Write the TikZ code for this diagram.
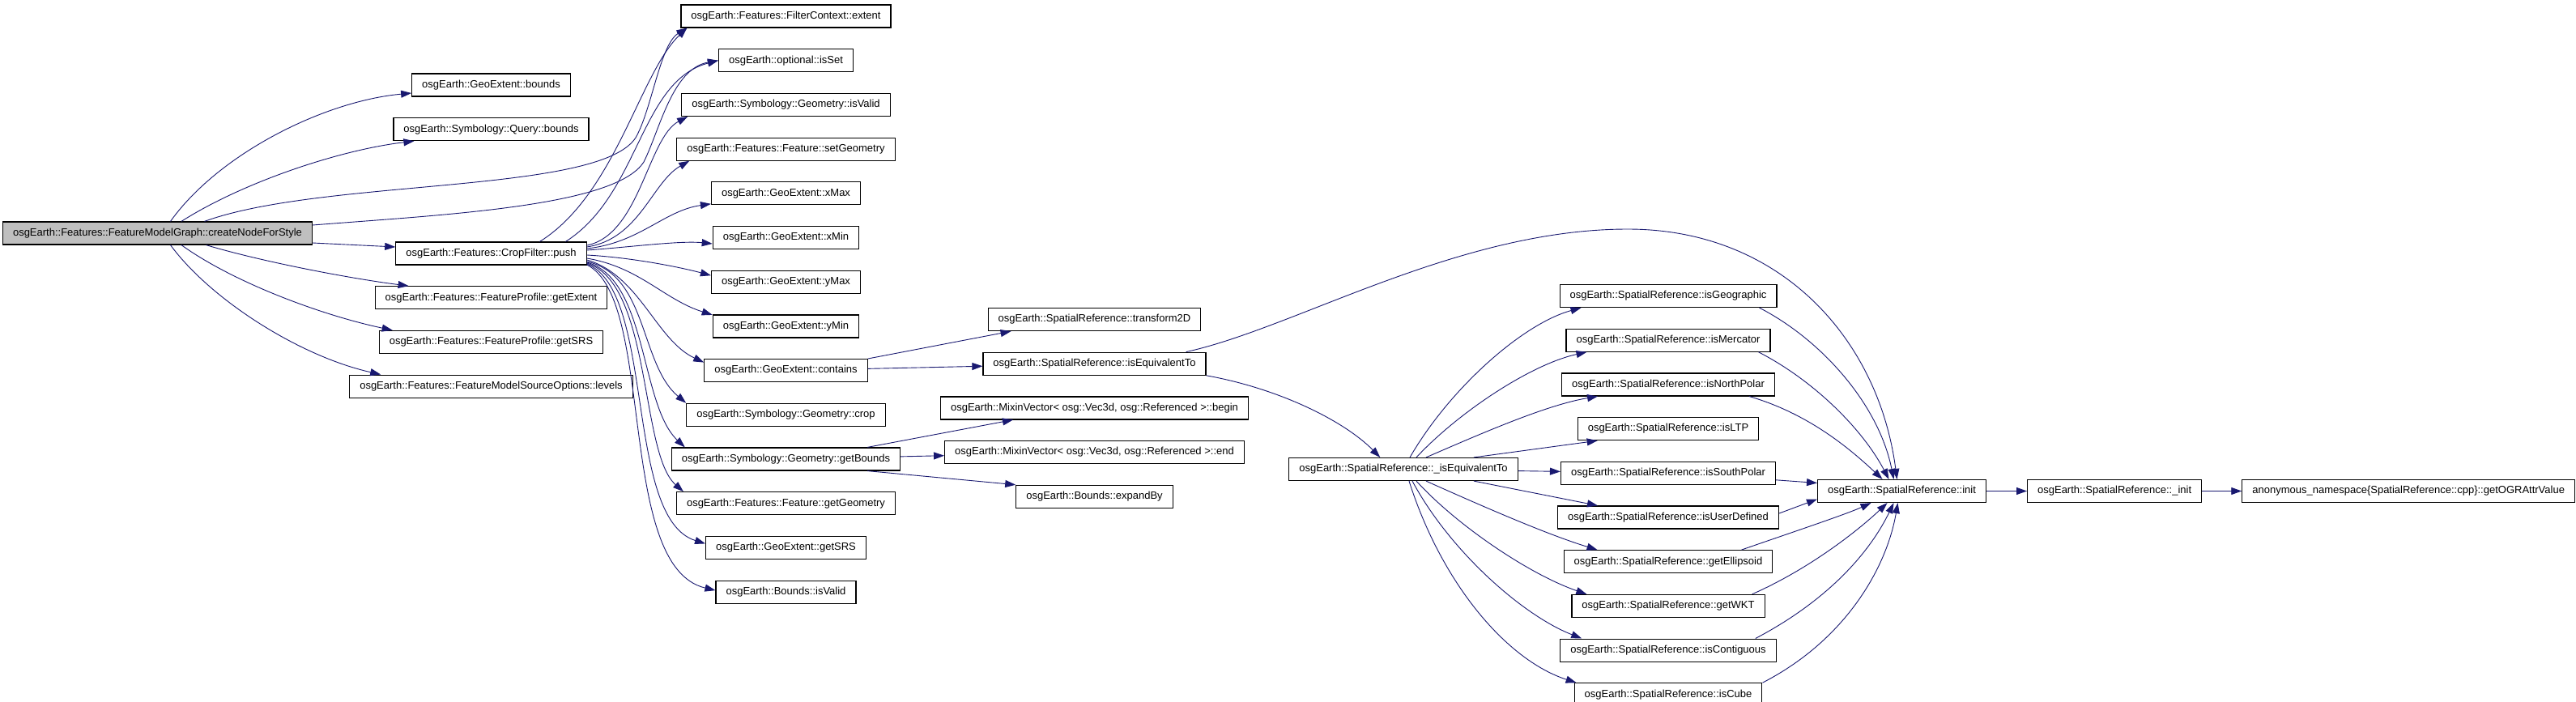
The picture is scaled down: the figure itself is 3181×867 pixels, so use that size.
\documentclass[tikz,border=0pt]{standalone}
\usepackage{fontspec}
\setmainfont{Liberation Sans}
\usetikzlibrary{arrows.meta,positioning}
\definecolor{edgeblue}{RGB}{25,25,112}
\definecolor{rootgray}{RGB}{191,191,191}

\begin{document}
\begin{tikzpicture}[
    x=0.5pt, y=-0.5pt,
    node distance=12.75pt and 25pt,
    fn/.style={rectangle, draw=black, line width=0.6pt, fill=white, font=\fontsize{6.5}{7}\selectfont, minimum height=14pt, inner xsep=6.25pt, inner ysep=0pt},
    rootfn/.style={fn, fill=rootgray},
    call/.style={-{Triangle[length=6.5pt,width=4.5pt]}, draw=edgeblue, line width=0.45pt}
  ]
  \useasboundingbox (0,0) rectangle (3181,867);

  % caller
  \node[rootfn] (R) at (194.5,288) {osgEarth::Features::FeatureModelGraph::createNodeForStyle};

  % first level
  \node[fn] (gebounds) at (606.5,105) {osgEarth::GeoExtent::bounds};
  \node[fn, below=of gebounds] (qbounds) {osgEarth::Symbology::Query::bounds};
  \node[fn] (push) at (606.5,313) {osgEarth::Features::CropFilter::push};
  \node[fn, below=of push] (getextent) {osgEarth::Features::FeatureProfile::getExtent};
  \node[fn, below=of getextent] (fpsrs) {osgEarth::Features::FeatureProfile::getSRS};
  \node[fn, below=of fpsrs] (levels) {osgEarth::Features::FeatureModelSourceOptions::levels};

  % called by push
  \node[fn] (fce) at (970.5,20) {osgEarth::Features::FilterContext::extent};
  \node[fn, below=of fce] (isset) {osgEarth::optional::isSet};
  \node[fn, below=of isset] (geovalid) {osgEarth::Symbology::Geometry::isValid};
  \node[fn, below=of geovalid] (setgeom) {osgEarth::Features::Feature::setGeometry};
  \node[fn, below=of setgeom] (xmax) {osgEarth::GeoExtent::xMax};
  \node[fn, below=of xmax] (xmin) {osgEarth::GeoExtent::xMin};
  \node[fn, below=of xmin] (ymax) {osgEarth::GeoExtent::yMax};
  \node[fn, below=of ymax] (ymin) {osgEarth::GeoExtent::yMin};
  \node[fn, below=of ymin] (contains) {osgEarth::GeoExtent::contains};
  \node[fn, below=of contains] (crop) {osgEarth::Symbology::Geometry::crop};
  \node[fn, below=of crop] (getbounds) {osgEarth::Symbology::Geometry::getBounds};
  \node[fn, below=of getbounds] (getgeom) {osgEarth::Features::Feature::getGeometry};
  \node[fn, below=of getgeom] (extsrs) {osgEarth::GeoExtent::getSRS};
  \node[fn, below=of extsrs] (bndvalid) {osgEarth::Bounds::isValid};

  % third level
  \node[fn] (xform) at (1351.5,394.5) {osgEarth::SpatialReference::transform2D};
  \node[fn, below=of xform] (isequiv) {osgEarth::SpatialReference::isEquivalentTo};
  \node[fn, below=of isequiv] (mvbegin) {osgEarth::MixinVector< osg::Vec3d, osg::Referenced >::begin};
  \node[fn, below=of mvbegin] (mvend) {osgEarth::MixinVector< osg::Vec3d, osg::Referenced >::end};
  \node[fn, below=of mvend] (expandby) {osgEarth::Bounds::expandBy};

  \node[fn] (speq) at (1733,579.5) {osgEarth::SpatialReference::\_isEquivalentTo};

  \node[fn] (isgeo) at (2060,365.5) {osgEarth::SpatialReference::isGeographic};
  \node[fn, below=of isgeo] (ismerc) {osgEarth::SpatialReference::isMercator};
  \node[fn, below=of ismerc] (isnp) {osgEarth::SpatialReference::isNorthPolar};
  \node[fn, below=of isnp] (isltp) {osgEarth::SpatialReference::isLTP};
  \node[fn, below=of isltp] (issp) {osgEarth::SpatialReference::isSouthPolar};
  \node[fn, below=of issp] (isud) {osgEarth::SpatialReference::isUserDefined};
  \node[fn, below=of isud] (getell) {osgEarth::SpatialReference::getEllipsoid};
  \node[fn, below=of getell] (getwkt) {osgEarth::SpatialReference::getWKT};
  \node[fn, below=of getwkt] (iscont) {osgEarth::SpatialReference::isContiguous};
  \node[fn, below=of iscont] (iscube) {osgEarth::SpatialReference::isCube};

  \node[fn] (init) at (2348.5,606.5) {osgEarth::SpatialReference::init};
  \node[fn, right=of init] (uinit) {osgEarth::SpatialReference::\_init};
  \node[fn, right=24.5pt of uinit] (ogr) {anonymous\_namespace\{SpatialReference::cpp\}::getOGRAttrValue};

  % root calls
  \draw[call] ([xshift=8pt]R.north) .. controls (270,190) and (400,125) .. ([yshift=-5pt]gebounds.west);
  \draw[call] ([xshift=14.75pt]R.north) .. controls (300,225) and (420,185) .. ([xshift=13pt]qbounds.south west);
  \draw[call] ([xshift=29pt]R.north) .. controls (400,220) and (740,240) .. (785,170) .. controls (805,135) and (815,55) .. ([xshift=4pt]fce.south west);
  \draw[call] ([yshift=5pt]R.east) .. controls (550,265) and (760,255) .. (795,200) .. controls (815,160) and (830,85) .. (isset.west);
  \draw[call] ([yshift=-6pt]R.east) -- ([yshift=4pt]push.west);
  \draw[call] ([xshift=30pt]R.south) .. controls (330,325) and (440,345) .. ([xshift=21pt]getextent.north west);
  \draw[call] ([xshift=14.75pt]R.south) .. controls (290,350) and (400,390) .. ([xshift=8.5pt]fpsrs.north west);
  \draw[call] ([xshift=8pt]R.south) .. controls (260,370) and (370,440) .. ([xshift=19.5pt]levels.north west);

  % push calls
  \draw[call] ([xshift=30pt]push.north) .. controls (760,240) and (790,90) .. ([xshift=4pt]fce.south west);
  \draw[call] ([xshift=46pt]push.north) .. controls (790,240) and (790,100) .. (isset.west);
  \draw[call] ([yshift=5pt]push.east) .. controls (790,290) and (800,170) .. ([xshift=4pt]geovalid.south west);
  \draw[call] ([yshift=4pt]push.east) .. controls (790,295) and (805,225) .. ([xshift=8pt]setgeom.south west);
  \draw[call] ([yshift=3pt]push.east) .. controls (790,300) and (820,260) .. ([yshift=-6.5pt]xmax.west);
  \draw[call] ([yshift=2pt]push.east) .. controls (780,305) and (840,297) .. ([yshift=-3.75pt]xmin.west);
  \draw[call] ([yshift=-1pt]push.east) .. controls (780,318) and (840,330) .. ([yshift=4pt]ymax.west);
  \draw[call] ([yshift=-3pt]push.east) .. controls (790,330) and (820,370) .. ([yshift=7pt]ymin.west);
  \draw[call] ([yshift=-4pt]push.east) .. controls (790,340) and (810,420) .. ([yshift=5pt]contains.west);
  \draw[call] ([yshift=-5pt]push.east) .. controls (800,340) and (790,450) .. (crop.north west);
  \draw[call] ([yshift=-5.5pt]push.east) .. controls (800,345) and (790,500) .. ([xshift=8.5pt]getbounds.north west);
  \draw[call] ([yshift=-6pt]push.east) .. controls (805,350) and (790,560) .. ([xshift=4.5pt]getgeom.north west);
  \draw[call] ([yshift=-6.5pt]push.east) .. controls (810,360) and (770,640) .. ([yshift=2.5pt]extsrs.west);
  \draw[call] ([yshift=-7pt]push.east) .. controls (810,370) and (760,700) .. ([yshift=1pt]bndvalid.west);

  % contains / getBounds
  \draw[call] ([xshift=-0pt]contains.north east) -- ([xshift=14.5pt]xform.south west);
  \draw[call] (contains) -- (isequiv);
  \draw[call] ([xshift=-20.5pt]getbounds.north east) -- ([xshift=45pt]mvbegin.south west);
  \draw[call] (getbounds) -- (mvend);
  \draw[call] ([xshift=-20.5pt]getbounds.south east) -- (expandby.north west);

  % isEquivalentTo
  \draw[call] (isequiv.south east) .. controls (1580,480) and (1660,520) .. ([xshift=56.5pt]speq.north west);
  \draw[call] ([xshift=-12.5pt]isequiv.north east) .. controls (1600,405) and (1800,283) .. (2010,283) .. controls (2200,283) and (2320,420) .. ([xshift=-3pt]init.north);

  % _isEquivalentTo calls
  \draw[call] ([xshift=4pt]speq.north) .. controls (1790,480) and (1880,400) .. ([xshift=13.5pt]isgeo.south west);
  \draw[call] ([xshift=8pt]speq.north) .. controls (1800,510) and (1890,450) .. ([xshift=13pt]ismerc.south west);
  \draw[call] ([xshift=14pt]speq.north) .. controls (1830,535) and (1910,500) .. ([xshift=22.5pt]isnp.south west);
  \draw[call] ([xshift=43.5pt]speq.north) -- ([xshift=12.5pt]isltp.south west);
  \draw[call] (speq) -- (issp);
  \draw[call] ([xshift=43.5pt]speq.south) -- ([xshift=25pt]isud.north west);
  \draw[call] ([xshift=14pt]speq.south) .. controls (1830,625) and (1910,660) .. ([xshift=21pt]getell.north west);
  \draw[call] ([xshift=8pt]speq.south) .. controls (1800,650) and (1890,710) .. ([xshift=9.5pt]getwkt.north west);
  \draw[call] ([xshift=5.5pt]speq.south) .. controls (1790,680) and (1880,760) .. ([xshift=13.5pt]iscont.north west);
  \draw[call] ([xshift=3.5pt]speq.south) .. controls (1780,720) and (1860,815) .. ([xshift=1.5pt]iscube.north west);

  % into init
  \draw[call] ([xshift=-11pt]isgeo.south east) .. controls (2250,420) and (2320,500) .. ([xshift=-5pt]init.north);
  \draw[call] ([xshift=-7.5pt]ismerc.south east) .. controls (2240,470) and (2300,530) .. ([xshift=-8pt]init.north);
  \draw[call] ([xshift=-16pt]isnp.south east) .. controls (2230,510) and (2280,550) .. ([xshift=-12pt]init.north);
  \draw[call] ([yshift=-4.25pt]issp.east) -- ([yshift=5pt]init.west);
  \draw[call] ([yshift=2.5pt]isud.east) -- ([yshift=-5pt]init.west);
  \draw[call] ([xshift=-19.5pt]getell.north east) .. controls (2220,655) and (2280,635) .. ([xshift=-19pt]init.south);
  \draw[call] ([xshift=-8pt]getwkt.north east) .. controls (2240,700) and (2300,650) .. ([xshift=-9pt]init.south);
  \draw[call] ([xshift=-13pt]iscont.north east) .. controls (2260,740) and (2310,680) .. ([xshift=-5pt]init.south);
  \draw[call] (iscube.north east) .. controls (2280,790) and (2330,700) .. ([xshift=-2.5pt]init.south);

  \draw[call] (init) -- (uinit);
  \draw[call] (uinit) -- (ogr);
\end{tikzpicture}
\end{document}
